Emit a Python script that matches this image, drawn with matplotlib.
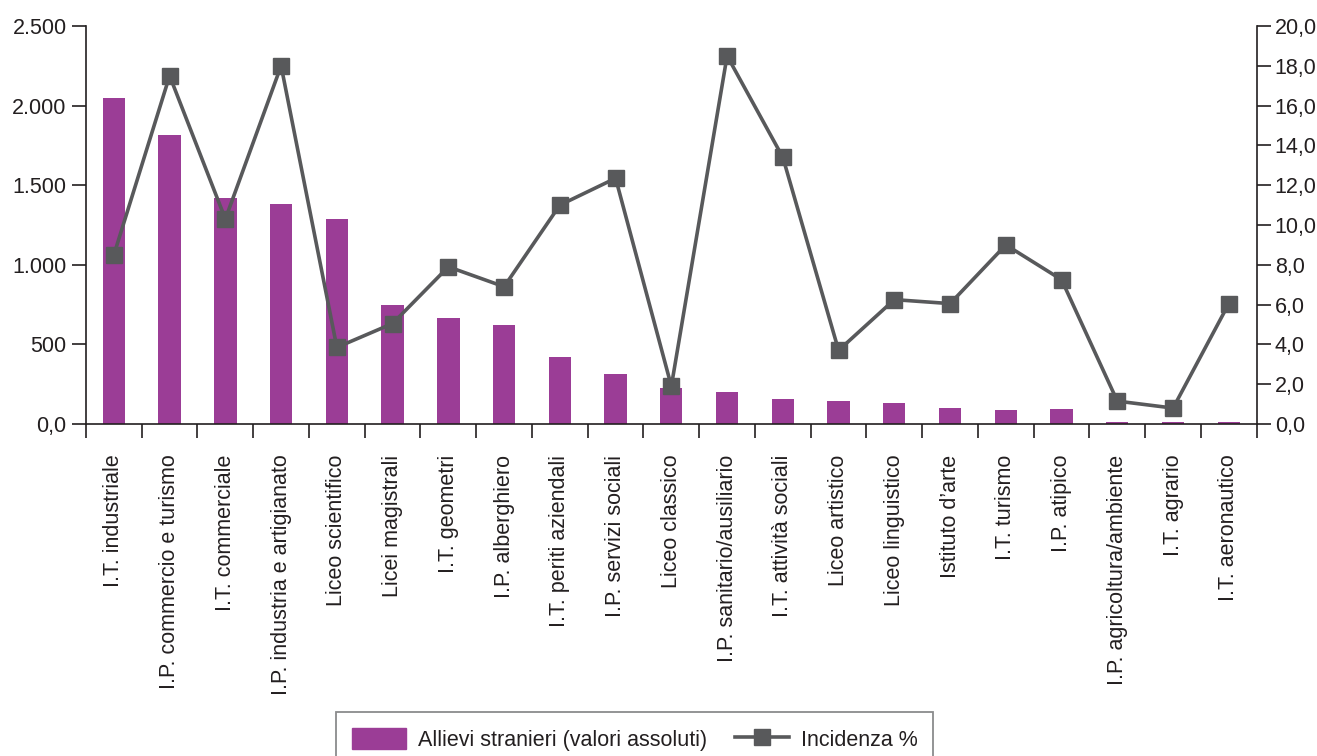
import matplotlib
matplotlib.use("Agg")
import matplotlib.pyplot as plt
from matplotlib.ticker import FixedLocator, FuncFormatter
from matplotlib.lines import Line2D
from matplotlib.patches import Patch

plt.rcParams['font.family'] = ['Liberation Sans', 'DejaVu Sans']

categories = [
    "I.T. industriale", "I.P. commercio e turismo", "I.T. commerciale",
    "I.P. industria e artigianato", "Liceo scientifico", "Licei magistrali",
    "I.T. geometri", "I.P. alberghiero", "I.T. periti aziendali",
    "I.P. servizi sociali", "Liceo classico", "I.P. sanitario/ausiliario",
    "I.T. attività sociali", "Liceo artistico", "Liceo linguistico",
    "Istituto d’arte", "I.T. turismo", "I.P. atipico",
    "I.P. agricoltura/ambiente", "I.T. agrario", "I.T. aeronautico",
]
allievi_stranieri = [2050, 1815, 1420, 1382, 1288, 747, 666, 622, 421, 314,
                     226, 201, 157, 144, 132, 100, 88, 94, 13, 13, 13]
incidenza = [8.5, 17.5, 10.3, 18.0, 3.85, 5.05, 7.9, 6.9, 11.0, 12.35,
             1.9, 18.5, 13.4, 3.7, 6.25, 6.05, 9.0, 7.25, 1.15, 0.8, 6.05]
left_ticks = [0, 500, 1000, 1500, 2000, 2500]
right_ticks = [0, 2, 4, 6, 8, 10, 12, 14, 16, 18, 20]

BAR = "#9b3d96"
LINE = "#58595b"
TXT = "#231f20"
FS = 15.5

fig = plt.figure(figsize=(13.17, 7.56), dpi=100)
ax = fig.add_axes([86 / 1317, 1 - 424 / 756, (1256.7 - 86) / 1317, (424 - 26) / 756])
ax2 = ax.twinx()

x = list(range(len(categories)))
ax.bar(x, allievi_stranieri, width=0.4, color=BAR, zorder=2)
ax2.plot(x, incidenza, color=LINE, lw=2.6, marker="s", markersize=12,
         markerfacecolor=LINE, markeredgecolor=LINE, zorder=3)

n = len(categories)
ax.set_xlim(-0.5, n - 0.5)
ax.set_ylim(0, 2500)
ax2.set_ylim(0, 20)

def it_int(v, pos=None):
    if v == 0:
        return "0,0"
    return f"{int(v):,}".replace(",", ".")

def it_dec(v, pos=None):
    return f"{v:.1f}".replace(".", ",")

ax.yaxis.set_major_locator(FixedLocator(left_ticks))
ax.yaxis.set_major_formatter(FuncFormatter(it_int))
ax2.yaxis.set_major_locator(FixedLocator(right_ticks))
ax2.yaxis.set_major_formatter(FuncFormatter(it_dec))

ax.set_xticks(x)
ax.set_xticklabels(categories, rotation=90, fontsize=FS, color=TXT)
ax.set_xticks([i - 0.5 for i in range(n + 1)], minor=True)
ax.tick_params(axis="x", which="major", length=0, pad=22)
ax.tick_params(axis="x", which="minor", length=10, width=1.2, color=TXT, direction="out")
ax.tick_params(axis="y", length=10, width=1.2, color=TXT, labelsize=FS, labelcolor=TXT, pad=4)
ax2.tick_params(axis="y", length=10, width=1.2, color=TXT, labelsize=FS, labelcolor=TXT, pad=3)

for a in (ax, ax2):
    a.spines["top"].set_visible(False)
    for s in ("left", "right", "bottom"):
        a.spines[s].set_color(TXT)
        a.spines[s].set_linewidth(1.2)
ax.spines["right"].set_visible(False)
ax2.spines["left"].set_visible(False)
ax2.spines["bottom"].set_visible(False)

handles = [
    Patch(facecolor=BAR, edgecolor=BAR),
    Line2D([0], [0], color=LINE, lw=2.6, marker="s", markersize=12,
           markerfacecolor=LINE, markeredgecolor=LINE),
]
leg = fig.legend(handles, ["Allievi stranieri (valori assoluti)", "Incidenza %"],
                 loc="upper left", bbox_to_anchor=(336 / 1317, 1 - 712 / 756),
                 bbox_transform=fig.transFigure, ncol=2, fontsize=FS,
                 frameon=True, fancybox=False, edgecolor="#6d6e70",
                 handlelength=2.5, handleheight=1.1, handletextpad=0.55,
                 columnspacing=1.3, borderpad=0.75, borderaxespad=0)
leg.get_frame().set_linewidth(1.3)
for t in leg.get_texts():
    t.set_color(TXT)

fig.savefig("out.png", dpi=100)
